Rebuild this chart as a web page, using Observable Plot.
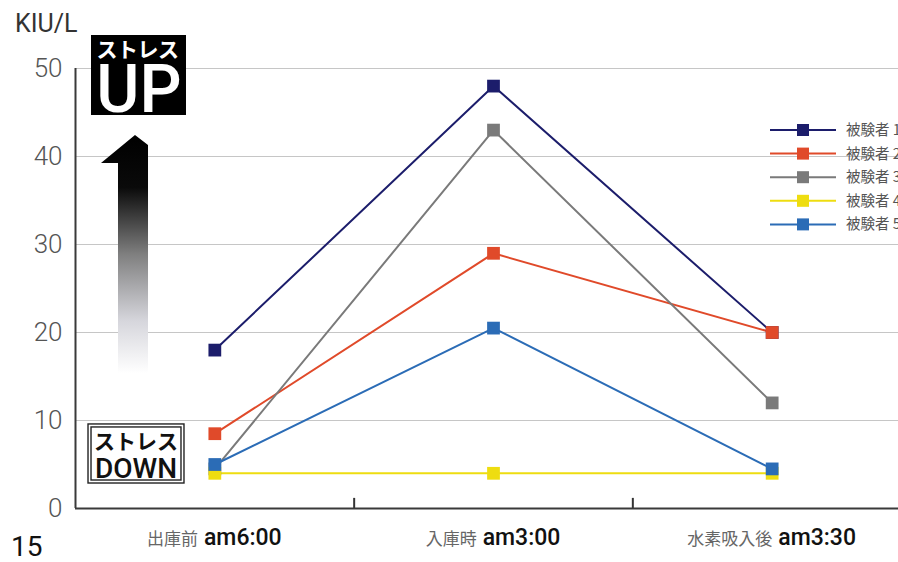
<!DOCTYPE html>
<html>
<head>
<meta charset="utf-8">
<script src="https://cdn.jsdelivr.net/npm/d3@7"></script>
<script src="https://cdn.jsdelivr.net/npm/@observablehq/plot@0.6"></script>
<style>
  html, body { margin: 0; padding: 0; background: #fff; }
  #chart svg { display: block; }
</style>
</head>
<body>
<div id="chart"></div>
<script>
// ---- data ----
const catLabels = ["出庫前", "入庫時", "水素吸入後"];
const catTimes = ["am6:00", "am3:00", "am3:30"];
const seriesNames = ["被験者 1", "被験者 2", "被験者 3", "被験者 4", "被験者 5"];
const s1 = [18, 48, 20];
const s2 = [8.5, 29, 20];
const s3 = [4.5, 43, 12];
const s4 = [4, 4, 4];
const s5 = [5, 20.5, 4.5];
const seriesColors = ["#1c1d6b", "#e04a2a", "#7a7a7a", "#eedd10", "#2b6cb6"];
const yTicks = [0, 10, 20, 30, 40, 50];
const yUnit = "KIU/L";
const pageNo = "15";
const upTop = "ストレス", upMain = "UP";
const downTop = "ストレス", downMain = "DOWN";

const allSeries = [s1, s2, s3, s4, s5];
const rows = [];
allSeries.forEach((vals, k) => vals.forEach((v, i) => rows.push({series: seriesNames[k], i, value: v})));
const colorOf = Object.fromEntries(seriesNames.map((s, k) => [s, seriesColors[k]]));

const JP = "'Noto Sans CJK JP', 'Noto Sans', sans-serif";
const LAT = "Roboto, 'Noto Sans', sans-serif";

// annotation layer (positions in data units through the scales)
function annotations(index, scales, values, dims) {
  const sx = scales.x, sy = scales.y;
  const g = d3.create("svg:g").attr("text-anchor", "start");
  const defs = g.append("defs");
  const grad = defs.append("linearGradient").attr("id", "arrowGrad")
    .attr("x1", 0).attr("y1", 0).attr("x2", 0).attr("y2", 1);
  [[0, "#000"], [0.22, "#0a0a0a"], [0.5, "#7f7f7f"], [0.78, "#d6d6dc"], [1, "#ffffff"]]
    .forEach(([o, c]) => grad.append("stop").attr("offset", o).attr("stop-color", c));

  // gradient arrow
  const arrow = [[-0.4067, 39.2], [-0.2847, 42.39], [-0.238, 41.25], [-0.238, 15.3], [-0.3457, 15.3], [-0.3457, 39.2]];
  g.append("polygon")
    .attr("points", arrow.map(([a, b]) => `${sx(a)},${sy(b)}`).join(" "))
    .attr("fill", "url(#arrowGrad)");

  // UP box
  g.append("rect")
    .attr("x", sx(-0.4426)).attr("y", sy(53.75))
    .attr("width", sx(-0.1017) - sx(-0.4426)).attr("height", sy(44.66) - sy(53.75))
    .attr("fill", "#000");
  g.append("text").attr("x", sx(-0.2757)).attr("y", sy(51.2))
    .attr("text-anchor", "middle").attr("fill", "#fff")
    .style("font", `700 21px ${JP}`).attr("letter-spacing", "-0.5").text(upTop);
  g.append("text").attr("x", sx(-0.2705)).attr("y", sy(44.95))
    .attr("text-anchor", "middle").attr("fill", "#fff")
    .style("font", `500 66px ${LAT}`).text(upMain);

  // DOWN box (double border)
  const bx1 = sx(-0.4533), bx2 = sx(-0.1089), by1 = sy(9.55), by2 = sy(2.84);
  g.append("rect").attr("x", bx1).attr("y", by1).attr("width", bx2 - bx1).attr("height", by2 - by1)
    .attr("fill", "#fff").attr("stroke", "#222").attr("stroke-width", 1.4);
  g.append("rect").attr("x", bx1 + 3).attr("y", by1 + 3).attr("width", bx2 - bx1 - 6).attr("height", by2 - by1 - 6)
    .attr("fill", "none").attr("stroke", "#222").attr("stroke-width", 1.4);
  g.append("text").attr("x", (bx1 + bx2) / 2).attr("y", sy(6.75))
    .attr("text-anchor", "middle").attr("fill", "#111")
    .style("font", `700 21px ${JP}`).text(downTop);
  g.append("text").attr("x", (bx1 + bx2) / 2).attr("y", sy(3.45))
    .attr("text-anchor", "middle").attr("fill", "#111")
    .style("font", `500 28px ${LAT}`).text(downMain);

  // x category labels
  catLabels.forEach((lab, i) => {
    const t = g.append("text").attr("x", sx(i)).attr("y", dims.height - 17)
      .attr("text-anchor", "middle");
    t.append("tspan").attr("fill", "#666").style("font", `400 17px ${JP}`).text(lab);
    t.append("tspan").attr("dx", 6).attr("fill", "#111").style("font", `500 23px ${LAT}`).text(catTimes[i]);
  });

  // unit and page number
  g.append("text").attr("x", 15).attr("y", 32).attr("fill", "#333")
    .style("font", `400 25px ${LAT}`).text(yUnit);
  g.append("text").attr("x", 11).attr("y", dims.height - 6).attr("fill", "#111")
    .style("font", `400 28px ${LAT}`).text(pageNo);

  // legend
  const lx = dims.width - 128;
  seriesNames.forEach((s, k) => {
    const y = 130 + k * 23.6;
    g.append("line").attr("x1", lx).attr("x2", lx + 66).attr("y1", y).attr("y2", y)
      .attr("stroke", seriesColors[k]).attr("stroke-width", 2);
    g.append("rect").attr("x", lx + 27).attr("y", y - 6).attr("width", 12).attr("height", 12)
      .attr("fill", seriesColors[k]);
    g.append("text").attr("x", lx + 76).attr("y", y + 5).attr("fill", "#555")
      .style("font", `400 14.5px ${JP}`).text(s);
  });
  return g.node();
}

const plot = Plot.plot({
  width: 898,
  height: 562,
  marginLeft: 75,
  marginRight: 0,
  marginTop: 68,
  marginBottom: 54,
  style: {fontFamily: LAT, background: "#fff", overflow: "hidden"},
  x: {domain: [-0.5, 2.5], range: [75, 911], axis: null},
  y: {domain: [0, 50], axis: null},
  marks: [
    Plot.gridY(yTicks.filter(d => d > 0), {stroke: "#c6c6c6", strokeOpacity: 1, strokeWidth: 1.2}),
    Plot.ruleX([0.5, 1.5], {y1: 0, y2: 1.15, stroke: "#333", strokeWidth: 2}),
    Plot.ruleY([0], {x1: -0.5, x2: 2.5, stroke: "#3a3a3a", strokeWidth: 2}),
    Plot.ruleX([-0.5], {y1: 0, y2: 50, stroke: "#3a3a3a", strokeWidth: 2}),
    Plot.line(rows, {x: "i", y: "value", z: "series", stroke: d => colorOf[d.series], strokeWidth: 2}),
    Plot.dot(rows, {x: "i", y: "value", symbol: "square", r: 7.2, fill: d => colorOf[d.series], stroke: "none"}),
    Plot.axisY({ticks: yTicks, tickSize: 0, tickPadding: 13, fontSize: 26, fill: "#555", fontWeight: 300, fontFamily: LAT, label: null}),
    annotations
  ]
});
document.getElementById("chart").appendChild(plot);
</script>
</body>
</html>
